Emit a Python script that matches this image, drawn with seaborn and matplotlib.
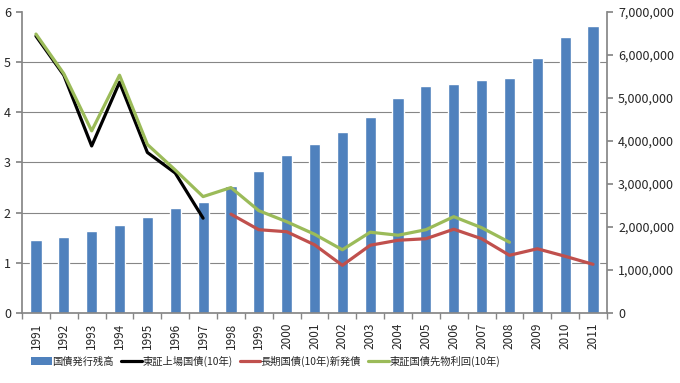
import matplotlib
matplotlib.use("Agg")
import matplotlib.pyplot as plt
from matplotlib.ticker import FuncFormatter, MultipleLocator, FixedLocator
from matplotlib.patches import Patch
from matplotlib.lines import Line2D
import seaborn as sns
import numpy as np
import pandas as pd

# data
years = list(range(1991, 2012))
outstanding = [1700000, 1770000, 1910000, 2050000, 2240000, 2440000, 2580000,
               2950000, 3300000, 3670000, 3930000, 4210000, 4560000, 5000000,
               5270000, 5320000, 5410000, 5460000, 5920000, 6410000, 6670000]

tse_years = list(range(1991, 1998))
tse_yield = [5.52, 4.74, 3.33, 4.60, 3.20, 2.79, 1.89]

new_years = list(range(1998, 2012))
new_yield = [1.97, 1.66, 1.62, 1.36, 0.95, 1.35, 1.45, 1.48, 1.67, 1.48,
             1.15, 1.28, 1.13, 0.97]

fut_years = list(range(1991, 2009))
fut_yield = [5.56, 4.77, 3.63, 4.74, 3.36, 2.85, 2.32, 2.50, 2.04, 1.82,
             1.57, 1.26, 1.61, 1.55, 1.66, 1.92, 1.70, 1.41]

labels = ["国債発行残高", "東証上場国債(10年)", "長期国債(10年)新発債", "東証国債先物利回(10年)"]
colors = ["#4F81BD", "#000000", "#C0504D", "#9BBB59"]

sns.set_theme(style="white")
plt.rcParams["font.family"] = ["Noto Sans CJK JP", "DejaVu Sans"]

fig = plt.figure(figsize=(6.8, 3.83), dpi=100)
ax_bar = fig.add_axes([0.0324, 0.1828, 0.8602, 0.7859])
ax_line = ax_bar.twinx()

bars = pd.DataFrame({"year": years, "value": outstanding})
sns.barplot(data=bars, x="year", y="value", native_scale=True, ax=ax_bar,
            color=colors[0], saturation=1, width=0.4, zorder=2)

gray = "#868686"
lw = 2.3
sns.lineplot(x=tse_years, y=tse_yield, ax=ax_line, color=colors[1], linewidth=lw)
sns.lineplot(x=new_years, y=new_yield, ax=ax_line, color=colors[2], linewidth=lw)
sns.lineplot(x=fut_years, y=fut_yield, ax=ax_line, color=colors[3], linewidth=lw)

# bar axis on the right
ax_bar.set_xlim(years[0] - 0.5, years[-1] + 0.5)
ax_bar.set_ylim(0, 7000000)
ax_bar.yaxis.tick_right()
ax_bar.yaxis.set_major_locator(MultipleLocator(1000000))
ax_bar.yaxis.set_major_formatter(FuncFormatter(lambda v, p: f"{v:,.0f}"))
ax_bar.yaxis.set_minor_locator(MultipleLocator(7000000 / 6))
ax_bar.grid(which="minor", axis="y", color=gray, linewidth=0.8, zorder=0)
ax_bar.set_axisbelow(True)
ax_bar.set_xlabel("")
ax_bar.set_ylabel("")
ax_bar.set_xticks(years)
ax_bar.set_xticklabels([str(y) for y in years], rotation=90, fontsize=8.5)
ax_bar.xaxis.set_minor_locator(FixedLocator(np.arange(years[0] - 0.5, years[-1] + 1.0, 1.0)))
ax_bar.tick_params(axis="x", which="major", length=0, pad=7)
ax_bar.tick_params(axis="x", which="minor", bottom=True, length=4, color=gray, direction="out")
ax_bar.tick_params(axis="y", which="major", right=True, length=4, color=gray,
                   direction="out", labelsize=9, pad=4)
ax_bar.tick_params(axis="y", which="minor", length=0)
for s in ["top", "left", "right"]:
    ax_bar.spines[s].set_visible(False)
ax_bar.spines["bottom"].set_color(gray)

# line axis on the left
ax_line.set_ylim(0, 6)
ax_line.yaxis.tick_left()
ax_line.yaxis.set_major_locator(MultipleLocator(1))
ax_line.tick_params(axis="y", left=True, right=False, length=4, color=gray,
                    direction="out", labelsize=9, pad=4)
ax_line.set_ylabel("")
ax_line.patch.set_visible(False)
for s in ["top", "bottom"]:
    ax_line.spines[s].set_visible(False)
ax_line.spines["left"].set_color(gray)
ax_line.spines["right"].set_color(gray)
ax_line.spines["left"].set_visible(True)
ax_line.spines["right"].set_visible(True)

handles = [Patch(facecolor=colors[0], edgecolor="none")]
handles += [Line2D([0], [0], color=c, linewidth=lw) for c in colors[1:]]
fig.legend(handles, labels, loc="center left", bbox_to_anchor=(0.040, 0.057),
           ncol=4, frameon=False, fontsize=7.4, handlelength=2.0,
           handletextpad=0.05, columnspacing=0.7, borderaxespad=0)

fig.savefig("out.png", dpi=100)
